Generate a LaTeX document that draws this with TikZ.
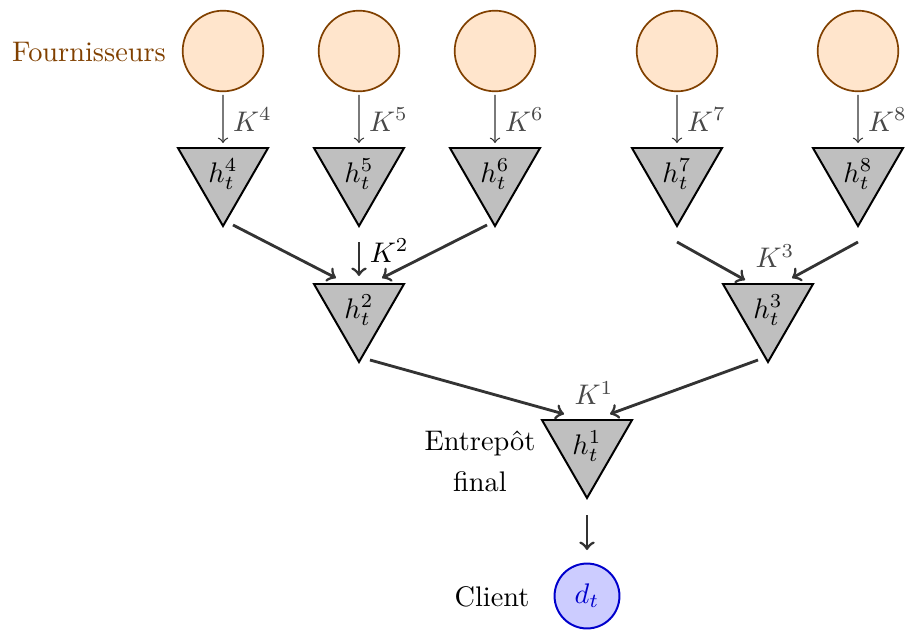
\documentclass[tikz,border=0pt]{standalone}
\usetikzlibrary{shapes.geometric,calc}
\definecolor{supbrown}{RGB}{128,64,0}
\definecolor{supfill}{RGB}{255,229,204}
\definecolor{arrgray}{RGB}{51,51,51}
\definecolor{labgray}{RGB}{72,72,72}
\begin{document}
\begin{tikzpicture}[x=0.3529pt,y=-0.3529pt,
  supplier/.style={circle,draw=supbrown,fill=supfill,line width=0.6pt,minimum size=1cm,inner sep=0pt},
  stock/.style={regular polygon,regular polygon sides=3,shape border rotate=180,draw=black,fill=gray!50,line width=0.7pt,minimum size=36.7pt,inner sep=0pt},
  thinarr/.style={->,draw=arrgray,line width=0.45pt,shorten <=1pt,shorten >=1.4pt},
  thickarr/.style={->,draw=arrgray,line width=1pt},
  klabel/.style={text=labgray},
  client/.style={circle,draw=blue!80!black,fill=blue!20,text=blue!80!black,line width=0.7pt,minimum size=22.9pt,inner sep=0pt},
  plain/.style={inner sep=0pt}]
\useasboundingbox (0,0) rectangle (907,630);
% suppliers
\node[supplier] (s4) at (223,51) {};
\node[supplier] (s5) at (359,51) {};
\node[supplier] (s6) at (495,51) {};
\node[supplier] (s7) at (677,51) {};
\node[supplier] (s8) at (858,51) {};
\node[plain,text=supbrown] (fourn) at (89,52) {Fournisseurs};
% stocks
\node[stock] (h4) at (223,174) {$h_t^4$};
\node[stock] (h5) at (359,174) {$h_t^5$};
\node[stock] (h6) at (495,174) {$h_t^6$};
\node[stock] (h7) at (677,174) {$h_t^7$};
\node[stock] (h8) at (858,174) {$h_t^8$};
\node[stock] (h2) at (359,310) {$h_t^2$};
\node[stock] (h3) at (768,310) {$h_t^3$};
\node[stock] (h1) at (587,446) {$h_t^1$};
\node[client] (c) at (587,596) {$d_t$};
\node[plain,align=center] (entr) at (480,461) {Entrep\^ot\\[2.5pt]final};
\node[plain] (cl) at (492,597) {Client};
% supplier arrows
\draw[thinarr] (s4) -- node[right,klabel]{$K^4$} (h4);
\draw[thinarr] (s5) -- node[right,klabel]{$K^5$} (h5);
\draw[thinarr] (s6) -- node[right,klabel]{$K^6$} (h6);
\draw[thinarr] (s7) -- node[right,klabel]{$K^7$} (h7);
\draw[thinarr] (s8) -- node[right,klabel]{$K^8$} (h8);
% level 2
\draw[thickarr] ($(h4.center)+(10,51)$) -- ($(h2.center)+(-23,-32)$);
\draw[thickarr] ($(h5.center)+(0,68)$) -- node[right,pos=0.25]{$K^2$} ($(h2.center)+(0,-34)$);
\draw[thickarr] ($(h6.center)+(-8,51)$) -- ($(h2.center)+(23,-32)$);
\draw[thickarr] ($(h7.center)+(0,68)$) -- ($(h3.center)+(-23,-30)$);
\draw[thickarr] ($(h8.center)+(0,68)$) -- ($(h3.center)+(24,-32)$);
\node[plain,klabel] (k3) at ($(h3.center)+(7,-54)$) {$K^3$};
% level 1
\draw[thickarr] ($(h2.center)+(11,50)$) -- ($(h1.center)+(-23,-32)$);
\draw[thickarr] ($(h3.center)+(-10,50)$) -- ($(h1.center)+(23,-32)$);
\node[plain,klabel] (k1) at ($(h1.center)+(7,-53)$) {$K^1$};
% to client
\draw[thickarr] ($(h1.center)+(0,69)$) -- ($(c.center)+(0,-46)$);
\end{tikzpicture}
\end{document}
